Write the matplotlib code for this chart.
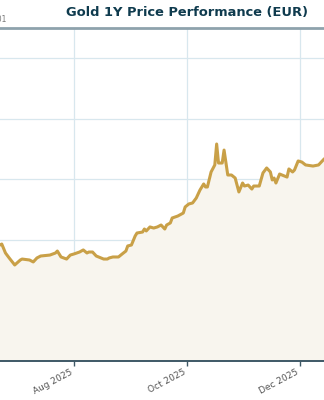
import matplotlib
matplotlib.use("Agg")
import matplotlib.pyplot as plt
import matplotlib.dates as mdates
import numpy as np
import pandas as pd

# gold price in EUR (visible part of the 1Y chart)
dates = [
    "2025-06-20", "2025-06-22", "2025-06-23", "2025-06-25", "2025-06-27", "2025-06-30",
    "2025-07-03", "2025-07-04", "2025-07-08", "2025-07-10", "2025-07-12", "2025-07-14",
    "2025-07-19", "2025-07-22", "2025-07-23", "2025-07-25", "2025-07-28", "2025-07-30",
    "2025-08-01", "2025-08-04", "2025-08-06", "2025-08-08", "2025-08-09", "2025-08-11",
    "2025-08-13", "2025-08-17", "2025-08-19", "2025-08-20", "2025-08-22", "2025-08-25",
    "2025-08-27", "2025-08-29", "2025-08-30", "2025-09-01", "2025-09-03", "2025-09-04",
    "2025-09-07", "2025-09-08", "2025-09-09", "2025-09-11", "2025-09-13", "2025-09-15",
    "2025-09-17", "2025-09-19", "2025-09-20", "2025-09-22", "2025-09-23", "2025-09-26",
    "2025-09-29", "2025-09-30", "2025-10-02", "2025-10-04", "2025-10-06", "2025-10-08",
    "2025-10-10", "2025-10-11", "2025-10-12", "2025-10-14", "2025-10-16", "2025-10-17",
    "2025-10-18", "2025-10-20", "2025-10-21", "2025-10-23", "2025-10-25", "2025-10-27",
    "2025-10-29", "2025-10-31", "2025-11-01", "2025-11-03", "2025-11-05", "2025-11-06",
    "2025-11-09", "2025-11-11", "2025-11-13", "2025-11-15", "2025-11-16", "2025-11-17",
    "2025-11-18", "2025-11-20", "2025-11-24", "2025-11-25", "2025-11-27", "2025-11-28",
    "2025-11-30", "2025-12-02", "2025-12-04", "2025-12-08", "2025-12-11", "2025-12-14",
    "2025-12-16",
]
prices = [
    2950, 2958, 2966, 2892, 2851, 2793,
    2834, 2842, 2834, 2818, 2851, 2867,
    2875, 2892, 2908, 2859, 2842, 2875,
    2884, 2900, 2917, 2892, 2900, 2900,
    2867, 2842, 2842, 2851, 2859, 2859,
    2884, 2908, 2950, 2958, 3032, 3057,
    3065, 3090, 3074, 3107, 3098, 3107,
    3123, 3090, 3123, 3140, 3181, 3197,
    3222, 3272, 3297, 3305, 3346, 3412,
    3462, 3437, 3437, 3561, 3619, 3792,
    3635, 3635, 3742, 3536, 3536, 3511,
    3396, 3470, 3445, 3453, 3420, 3445,
    3445, 3553, 3594, 3561, 3495, 3511,
    3470, 3544, 3519, 3586, 3561, 3577,
    3652, 3643, 3619, 3610, 3619, 3668,
    3690,
]
y_ticks = [2000, 2500, 3000, 3500, 4000, 4500]

dates = pd.to_datetime(dates)

fig = plt.figure(figsize=(3.24, 4.0), dpi=100)
# the chart is wider than the picture, only the middle part is visible
ax = fig.add_axes([-0.0403, 0.0975, 1.0749, 0.8325])

ax.fill_between(dates, prices, 2000, color="#f8f5ee", zorder=1)
ax.plot(dates, prices, color="#c9a047", linewidth=2.2, zorder=3)

ax.set_xlim(pd.Timestamp("2025-06-15"), pd.Timestamp("2025-12-20"))
ax.set_ylim(2000, 4750)
ax.set_yticks(y_ticks)

ax.xaxis.set_major_locator(mdates.MonthLocator(bymonth=[2, 4, 6, 8, 10, 12]))
ax.xaxis.set_major_formatter(mdates.DateFormatter("%b %Y"))
ax.grid(True, color="#d8e7ee", linewidth=0.9, zorder=0)
ax.set_axisbelow(True)

ax.tick_params(axis="y", length=0, labelleft=False)
ax.tick_params(axis="x", length=3.5, width=1, color="#3e5866",
               labelsize=6.5, labelcolor="#555555", pad=1.5)
for lbl in ax.get_xticklabels():
    lbl.set_rotation(28)
    lbl.set_ha("right")

ax.spines["left"].set_visible(False)
ax.spines["right"].set_visible(False)
ax.spines["top"].set_color("#8ea2ac")
ax.spines["top"].set_linewidth(2)
ax.spines["bottom"].set_color("#3e5866")
ax.spines["bottom"].set_linewidth(1.4)

fig.text(187 / 324, 0.968, "Gold 1Y Price Performance (EUR)", ha="center", va="center",
         fontsize=9.4, fontweight="bold", color="#0f3b4e")
fig.text(6.5 / 324, 0.952, "1e+01", ha="right", va="center", fontsize=5.5, color="#777777")

fig.savefig("out.png", dpi=100)
